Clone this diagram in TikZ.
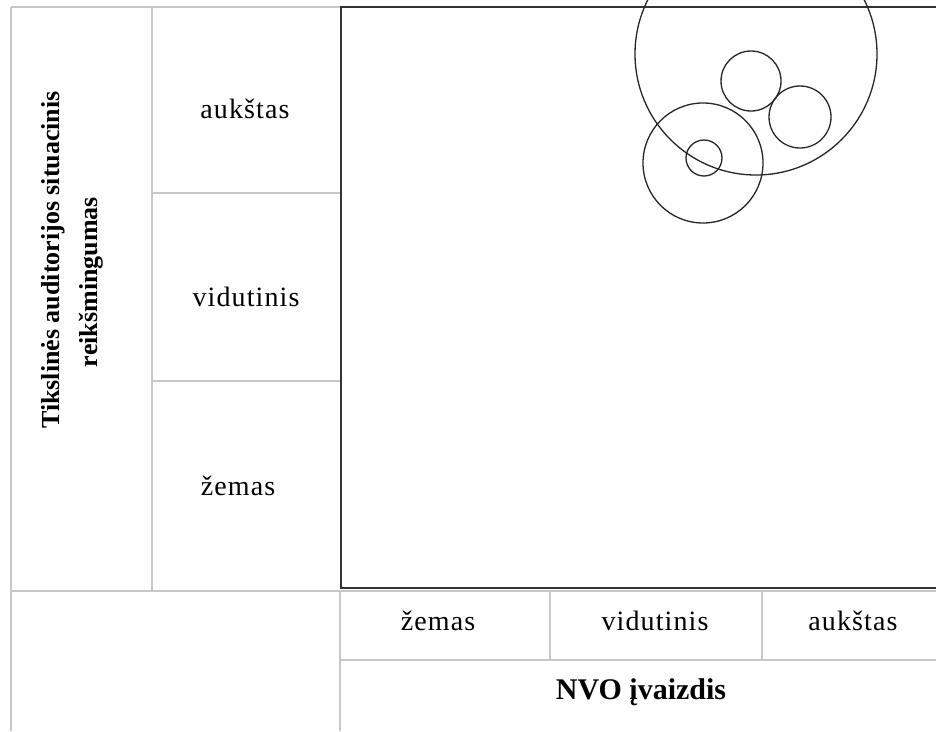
\documentclass[tikz,border=0pt]{standalone}
\usepackage{fontspec}
\setmainfont{Liberation Serif}
\newfontfamily\spaced[LetterSpace=4]{Liberation Serif}
\begin{document}
\begin{tikzpicture}[x=1pt,y=-1pt,
  grid/.style={draw=black!22,line width=2pt},
  frame/.style={draw=black!80,line width=2.4pt},
  ring/.style={draw=black!85,line width=1.3pt},
  lbl/.style={font=\spaced\fontsize{28}{32}\selectfont,inner sep=0pt},
  bold/.style={font=\bfseries\fontsize{26}{30}\selectfont,inner sep=0pt}]
\useasboundingbox (0,0) rectangle (936,731);
\fill[white] (0,0) rectangle (936,731);
% grey table lines
\draw[grid] (11,7) -- (340,7);
\draw[grid] (11,7) -- (11,731);
\draw[grid] (152,7) -- (152,591);
\draw[grid] (152,193) -- (340,193);
\draw[grid] (152,381) -- (340,381);
\draw[grid] (11,591) -- (936,591);
\draw[grid] (340,591) -- (340,731);
\draw[grid] (550,591) -- (550,660);
\draw[grid] (762,591) -- (762,660);
\draw[grid] (340,660) -- (936,660);
% plot frame
\draw[frame] (937,7) -- (341,7) -- (341,588) -- (937,588);
% circles
\draw[ring] (756,54) circle (121);
\draw[ring] (751,81) circle (30);
\draw[ring] (800,117) circle (31);
\draw[ring] (703,163) circle (60);
\draw[ring] (704,158) circle (18);
% row labels
\node[lbl] (ra) at (245,109) {aukštas};
\node[lbl] (rv) at (246,297) {vidutinis};
\node[lbl] (rz) at (238,486) {žemas};
% column labels
\node[lbl] (cz) at (438,621) {žemas};
\node[lbl] (cv) at (655,621) {vidutinis};
\node[lbl] (ca) at (853,621) {aukštas};
\node[bold,font=\bfseries\fontsize{30}{34}\selectfont] (xt) at (641,692) {NVO įvaizdis};
% axis title (rotated)
\node[bold,rotate=90] (yt1) at (53,260) {Tikslinės auditorijos situacinis};
\node[bold,rotate=90] (yt2) at (91,282) {reikšmingumas};
\end{tikzpicture}
\end{document}
